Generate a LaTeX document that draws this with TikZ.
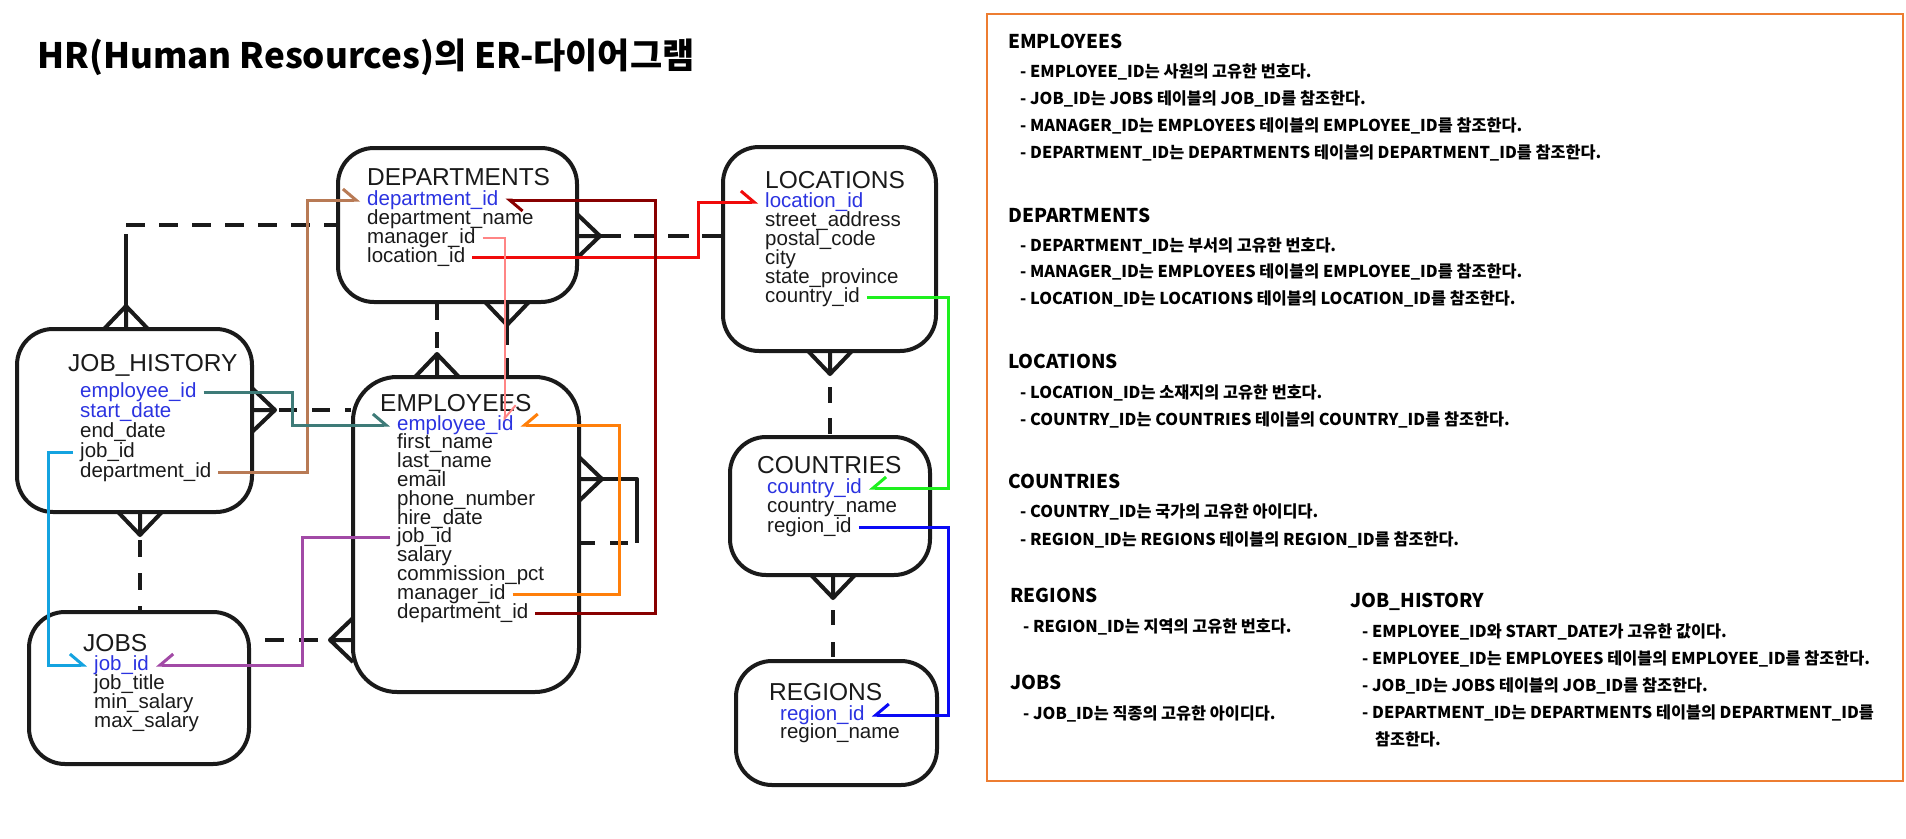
\documentclass[tikz,border=0pt]{standalone}
\usepackage{fontspec}
\usepackage{xcolor}
\usepackage{tikz}
\usetikzlibrary{arrows.meta}
\newfontfamily\erfont{Liberation Sans}
\newfontfamily\krfont{Noto Sans CJK KR}
\definecolor{ink}{HTML}{1A1A1A}
\definecolor{keyblue}{HTML}{2B33E0}
\definecolor{panel}{HTML}{ED7D31}
\definecolor{fkbrown}{HTML}{B87A55}
\definecolor{fkteal}{HTML}{3E7B78}
\definecolor{fkcyan}{HTML}{14A3E0}
\definecolor{fkpurple}{HTML}{A24AA6}
\definecolor{fkdark}{HTML}{880000}
\definecolor{fkred}{HTML}{F00A0A}
\definecolor{fkpink}{HTML}{FF8585}
\definecolor{fkorange}{HTML}{FF7F0A}
\definecolor{fkgreen}{HTML}{1EF01E}
\definecolor{fkblue}{HTML}{0A0AF5}
\tikzset{
  entity/.style={draw=ink, line width=4pt, rounded corners=36pt, inner sep=0pt},
  etitle/.style={text=ink, font=\erfont\fontsize{24.5}{26}\selectfont, inner sep=0pt, anchor=base west},
  attr/.style={text=ink, font=\erfont\fontsize{20.5}{19}\selectfont, inner xsep=7pt, inner ysep=0pt,
    text height=14pt, text depth=4pt, anchor=base west},
  key/.style={attr, text=keyblue},
  rel/.style={draw=ink, line width=4pt, line join=round},
  reldash/.style={rel, dash pattern=on 19pt off 14pt},
  fk/.style={line width=3pt, -{Straight Barb[harpoon,length=13pt,width=22pt]}},
  fks/.style={line width=3pt, -{Straight Barb[harpoon,swap,length=13pt,width=22pt]}},
  crow/.pic={\draw[rel] (-23,-22) -- (0,0) -- (-23,22) (-23,0) -- (0,0);},
  head/.style={text=black, font=\krfont\bfseries\fontsize{19}{22}\selectfont, inner sep=0pt, anchor=base west},
  item/.style={text=black, font=\krfont\bfseries\fontsize{16.3}{20}\selectfont, inner sep=0pt, anchor=base west},
}

\begin{document}
\begin{tikzpicture}[x=1pt,y=-1pt]
  \useasboundingbox (0,0) rectangle (1906,838);
  \node[font=\krfont\bfseries\fontsize{35}{40}\selectfont, anchor=base west, inner sep=0pt] (title)
    at (37,68) {HR(Human Resources)의 ER-다이어그램};

  % entity boxes
  \node[entity, minimum width=239pt, minimum height=154pt] (dep) at (457.5,225) {};
  \node[entity, minimum width=213pt, minimum height=204pt] (loc) at (829.5,249) {};
  \node[entity, minimum width=235pt, minimum height=183pt] (jh) at (134.5,420.5) {};
  \node[entity, minimum width=226pt, minimum height=315pt, rounded corners=44pt] (emp) at (466,534.5) {};
  \node[entity, minimum width=220pt, minimum height=152pt] (jobs) at (139,688) {};
  \node[entity, minimum width=200pt, minimum height=138pt] (cty) at (830,506) {};
  \node[entity, minimum width=201pt, minimum height=124pt] (reg) at (836.5,723) {};

  \node[etitle] (dep-t) at (367,185) {DEPARTMENTS};
  \node[etitle] (loc-t) at (765,188) {LOCATIONS};
  \node[etitle] (jh-t) at (68,371) {JOB\_HISTORY};
  \node[etitle] (emp-t) at (380,411) {EMPLOYEES};
  \node[etitle] (jobs-t) at (83,651) {JOBS};
  \node[etitle] (cty-t) at (757,473) {COUNTRIES};
  \node[etitle] (reg-t) at (769,700) {REGIONS};

  % attributes
  \foreach \nm/\txt/\sty [count=\i from 0] in {id/department\_id/key, name/department\_name/attr,
      mgr/manager\_id/attr, loc/location\_id/attr}
    \node[\sty] (dep-\nm) at (360,205+19*\i) {\txt};
  \foreach \nm/\txt/\sty [count=\i from 0] in {id/location\_id/key, street/street\_address/attr,
      postal/postal\_code/attr, city/city/attr, state/state\_province/attr, cty/country\_id/attr}
    \node[\sty] (loc-\nm) at (758,207+19*\i) {\txt};
  \foreach \nm/\txt/\sty [count=\i from 0] in {eid/employee\_id/key, start/start\_date/key,
      end/end\_date/attr, job/job\_id/attr, dep/department\_id/attr}
    \node[\sty] (jh-\nm) at (73,397+20*\i) {\txt};
  \foreach \nm/\txt/\sty [count=\i from 0] in {id/employee\_id/key, first/first\_name/attr,
      last/last\_name/attr, mail/email/attr, phone/phone\_number/attr, hire/hire\_date/attr,
      job/job\_id/attr, sal/salary/attr, comm/commission\_pct/attr, mgr/manager\_id/attr,
      dep/department\_id/attr}
    \node[\sty] (emp-\nm) at (390,430+18.8*\i) {\txt};
  \foreach \nm/\txt/\sty [count=\i from 0] in {id/job\_id/key, title/job\_title/attr,
      min/min\_salary/attr, max/max\_salary/attr}
    \node[\sty] (jobs-\nm) at (87,670+19*\i) {\txt};
  \foreach \nm/\txt/\sty [count=\i from 0] in {id/country\_id/key, name/country\_name/attr,
      reg/region\_id/attr}
    \node[\sty] (cty-\nm) at (760,493+19.5*\i) {\txt};
  \foreach \nm/\txt/\sty [count=\i from 0] in {id/region\_id/key, name/region\_name/attr}
    \node[\sty] (reg-\nm) at (773,720+18*\i) {\txt};

  % relationships
  \draw[reldash] (126,225) -- (dep.west);
  \draw[rel] (126,234) -- (126,306);
  \pic[rotate=90] at (126,306) {crow};
  \draw[rel, dash pattern=on 16pt off 12pt] ([xshift=-20.5pt]dep.south) -- (437,354);
  \pic[rotate=90] at (437,354) {crow};
  \draw[rel, dash pattern=on 20pt off 13pt] (507,325) -- ([xshift=41pt]emp.north);
  \pic[rotate=-90] at (507,325) {crow};
  \pic at (600,236) {crow};
  \draw[rel, dash pattern=on 21pt off 13pt] (600,236) -- ([yshift=13pt]loc.west);
  \pic at (275,410) {crow};
  \draw[rel, dash pattern=on 18pt off 15pt] (279,410) -- ([yshift=124.5pt]emp.west);
  \pic[rotate=-90] at (140,535) {crow};
  \draw[rel, dash pattern=on 17pt off 16pt] (140,540) -- ([xshift=1pt]jobs.north);
  \draw[rel, dash pattern=on 19pt off 15pt] ([xshift=14pt,yshift=48pt]jobs.east) -- (330,640);
  \pic[rotate=180] at (330,640) {crow};
  \pic at (602,479) {crow}; % manager of employees
  \draw[rel] (602,479) -- (637,479) -- (637,543);
  \draw[rel, dash pattern=on 18pt off 15pt] (628,543) -- ([yshift=-8.5pt]emp.east);
  \pic[rotate=-90] at (830,374) {crow};
  \draw[rel, dash pattern=on 16pt off 15pt] (830,387) -- (cty.north);
  \pic[rotate=-90] at (833,598) {crow};
  \draw[rel, dash pattern=on 15pt off 17pt] (833,610) -- ([xshift=-3.5pt]reg.north);

  % foreign keys
  \draw[fk, fkbrown] (jh-dep.east) -| ([xshift=-53pt]dep-id.west) -- (dep-id.west);
  \draw[fk, fkteal] (jh-eid.east) -| ([xshift=-98pt]emp-id.west) -- (emp-id.west);
  \draw[fk, fkcyan] (jh-job.west) -| ([xshift=-39pt]jobs-id.west) -- (jobs-id.west);
  \draw[fks, fkpurple] (emp-job.west) -| ([xshift=146pt]jobs-id.east) -- (jobs-id.east);
  \draw[fk, fkred] (dep-loc.east) -| ([xshift=-60pt]loc-id.west) -- (loc-id.west);
  \draw[fk, fkpink, line width=2pt] (dep-mgr.east) -| ([xshift=-16pt,yshift=4pt]emp-id.east);
  \draw[fk, fkdark] (emp-dep.east) -| ([xshift=150pt]dep-id.east) -- (dep-id.east);
  \draw[fks, fkorange] (emp-mgr.east) -| ([xshift=99pt]emp-id.east) -- (emp-id.east);
  \draw[fks, fkgreen] (loc-cty.east) -| ([xshift=80pt]cty-id.east) -- (cty-id.east);
  \draw[fks, fkblue] (cty-reg.east) -| ([xshift=77pt]reg-id.east) -- (reg-id.east);

  % description panel
  \draw[panel, line width=1.5pt] (987,14) rectangle (1903,781);
  \node[head] (h-emp) at (1008,48) {EMPLOYEES};
  \foreach \txt [count=\i from 0] in {- EMPLOYEE\_ID는 사원의 고유한 번호다.,
      - JOB\_ID는 JOBS 테이블의 JOB\_ID를 참조한다.,
      - MANAGER\_ID는 EMPLOYEES 테이블의 EMPLOYEE\_ID를 참조한다.,
      - DEPARTMENT\_ID는 DEPARTMENTS 테이블의 DEPARTMENT\_ID를 참조한다.}
    \node[item] (i-emp-\i) at (1020,77+27*\i) {\txt};
  \node[head] (h-dep) at (1008,222) {DEPARTMENTS};
  \foreach \txt [count=\i from 0] in {- DEPARTMENT\_ID는 부서의 고유한 번호다.,
      - MANAGER\_ID는 EMPLOYEES 테이블의 EMPLOYEE\_ID를 참조한다.,
      - LOCATION\_ID는 LOCATIONS 테이블의 LOCATION\_ID를 참조한다.}
    \node[item] (i-dep-\i) at (1020,251+26.5*\i) {\txt};
  \node[head] (h-loc) at (1008,368) {LOCATIONS};
  \foreach \txt [count=\i from 0] in {- LOCATION\_ID는 소재지의 고유한 번호다.,
      - COUNTRY\_ID는 COUNTRIES 테이블의 COUNTRY\_ID를 참조한다.}
    \node[item] (i-loc-\i) at (1020,398+27*\i) {\txt};
  \node[head] (h-cty) at (1008,488) {COUNTRIES};
  \foreach \txt [count=\i from 0] in {- COUNTRY\_ID는 국가의 고유한 아이디다.,
      - REGION\_ID는 REGIONS 테이블의 REGION\_ID를 참조한다.}
    \node[item] (i-cty-\i) at (1020,517+28*\i) {\txt};
  \node[head] (h-reg) at (1010,602) {REGIONS};
  \node[item] (i-reg-0) at (1023,632) {- REGION\_ID는 지역의 고유한 번호다.};
  \node[head] (h-jobs) at (1010,689) {JOBS};
  \node[item] (i-jobs-0) at (1023,719) {- JOB\_ID는 직종의 고유한 아이디다.};
  \node[head] (h-jh) at (1350,607) {JOB\_HISTORY};
  \foreach \txt [count=\i from 0] in {- EMPLOYEE\_ID와 START\_DATE가 고유한 값이다.,
      - EMPLOYEE\_ID는 EMPLOYEES 테이블의 EMPLOYEE\_ID를 참조한다.,
      - JOB\_ID는 JOBS 테이블의 JOB\_ID를 참조한다.,
      - DEPARTMENT\_ID는 DEPARTMENTS 테이블의 DEPARTMENT\_ID를}
    \node[item] (i-jh-\i) at (1362,637+27*\i) {\txt};
  \node[item] (i-jh-4) at (1375,745) {참조한다.};
\end{tikzpicture}
\end{document}
